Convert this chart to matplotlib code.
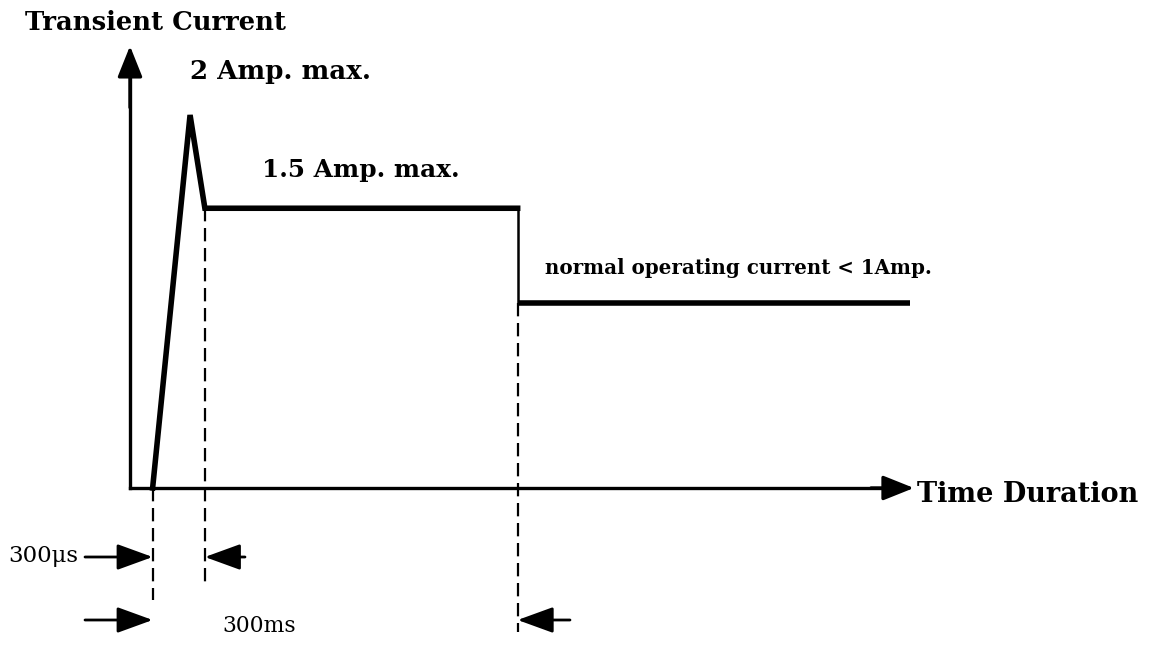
import matplotlib
matplotlib.use("Agg")
import matplotlib.pyplot as plt

# ---- schematic data (time in schematic units, current in A) ----
rise_time = [0.29, 0.77, 0.96, 4.97]
rise_current = [0.0, 2.0, 1.5, 1.5]
drop_time = [4.97, 4.97]
drop_current = [1.5, 0.99]
normal_time = [4.97, 10.0]
normal_current = [0.99, 0.99]
marker_times = [0.29, 0.96, 4.97]
marker_tops = [0.0, 1.5, 0.99]
marker_bottoms = [-0.60, -0.52, -0.77]
axis_time_end = 10.0
axis_current_end = 2.34

labels = {
    "ylabel": "Transient Current",
    "xlabel": "Time Duration",
    "peak": "2 Amp. max.",
    "plateau": "1.5 Amp. max.",
    "normal": "normal operating current < 1Amp.",
    "short": "300\u03bcs",
    "long": "300ms",
}

W, H = 1150, 645
X0, Y0 = 130, 488
PXT, PXA = 78.0, 186.5

fig = plt.figure(figsize=(W / 100, H / 100), dpi=100)
ax = fig.add_axes([0, 0, 1, 1])
ax.set_xlim(-X0 / PXT, (W - X0) / PXT)
ax.set_ylim(-(H - Y0) / PXA, Y0 / PXA)
ax.axis("off")


def d(px, py):
    """pixel position -> data coords (for text placement)"""
    return ((px - X0) / PXT, (Y0 - py) / PXA)


# axes
ax.plot([0, 0], [0, axis_current_end - 0.1], color="k", lw=2.4, solid_capstyle="projecting")
ax.plot([0, axis_time_end - 0.2], [0, 0], color="k", lw=2.4, solid_capstyle="projecting")
ax.annotate("", xy=(0, axis_current_end + 0.03), xytext=(0, axis_current_end - 0.3),
            arrowprops=dict(arrowstyle="-|>,head_length=0.95,head_width=0.38",
                            mutation_scale=20, color="k", lw=2.4, shrinkA=0, shrinkB=0))
ax.annotate("", xy=(axis_time_end + 0.05, 0), xytext=(axis_time_end - 0.5, 0),
            arrowprops=dict(arrowstyle="-|>,head_length=0.95,head_width=0.38",
                            mutation_scale=20, color="k", lw=2.4, shrinkA=0, shrinkB=0))

# waveform
ax.plot(rise_time, rise_current, color="k", lw=4.0, solid_joinstyle="miter")
ax.plot(drop_time, drop_current, color="k", lw=1.8)
ax.plot(normal_time, normal_current, color="k", lw=4.0, solid_capstyle="butt")

# dashed markers
for t, top, bot in zip(marker_times, marker_tops, marker_bottoms):
    ax.plot([t, t], [top, bot], color="k", lw=1.6, dashes=(6, 3))

# dimension arrows
aprops = dict(arrowstyle="-|>,head_length=1.1,head_width=0.4", mutation_scale=20,
              color="k", lw=2.0, shrinkA=0, shrinkB=0)
y1 = d(0, 557)[1]
y2 = d(0, 620)[1]
ax.annotate("", xy=(marker_times[0], y1), xytext=(d(85, 0)[0], y1), arrowprops=aprops)
ax.annotate("", xy=(marker_times[1], y1), xytext=(d(245, 0)[0], y1), arrowprops=aprops)
ax.annotate("", xy=(marker_times[0], y2), xytext=(d(85, 0)[0], y2), arrowprops=aprops)
ax.annotate("", xy=(marker_times[2], y2), xytext=(d(570, 0)[0], y2), arrowprops=aprops)

font = dict(family="DejaVu Serif", weight="bold", color="k")
ax.text(*d(25, 22), labels["ylabel"], fontsize=18.6, ha="left", va="center", **font)
ax.text(*d(917, 494), labels["xlabel"], fontsize=19.5, ha="left", va="center", **font)
ax.text(*d(190, 72), labels["peak"], fontsize=18.8, ha="left", va="center", **font)
ax.text(*d(262, 170), labels["plateau"], fontsize=17.8, ha="left", va="center", **font)
ax.text(*d(545, 268), labels["normal"], fontsize=14.3, ha="left", va="center", **font)
ax.text(*d(8, 556), labels["short"], fontsize=16.5, ha="left", va="center",
        family="DejaVu Serif", color="k")
ax.text(*d(222, 626), labels["long"], fontsize=15.7, ha="left", va="center",
        family="DejaVu Serif", color="k")

fig.savefig("out.png", dpi=100, facecolor="white")
